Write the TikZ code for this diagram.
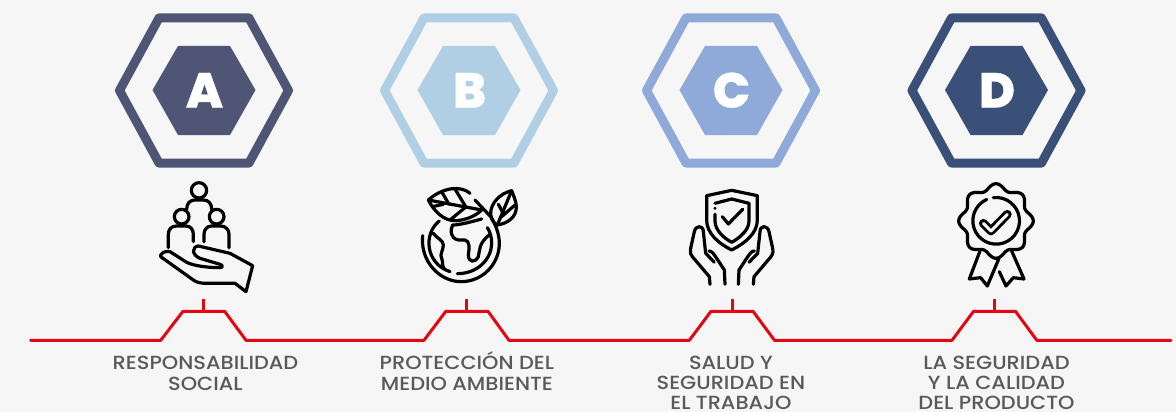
\documentclass[tikz,border=0pt]{standalone}
\usepackage{fontspec}
\setmainfont{Poppins}
\newfontfamily\lblf[FakeStretch=1.1]{Poppins Medium}
\newfontfamily\hexf[FakeBold=0.8]{Poppins ExtraBold}
\definecolor{bgc}{HTML}{F6F6F6}
\definecolor{redl}{HTML}{E30613}
\definecolor{txt}{HTML}{58595B}
\definecolor{ca}{HTML}{4F5675}
\definecolor{cb}{HTML}{B0CFE4}
\definecolor{cc}{HTML}{8FAAD9}
\definecolor{cd}{HTML}{3A5078}
\tikzset{
  x=1pt,y=-1pt,
  redline/.style={draw=redl,line width=3pt,line join=round,line cap=round},
  lbl/.style={text=txt,font=\lblf\fontsize{19}{20.2}\selectfont,align=center,anchor=base,inner sep=0pt},
  letter/.style={text=white,font=\hexf\fontsize{49}{49}\selectfont,inner sep=0pt,anchor=base},
  ico/.style={draw=black,line width=3.2pt,line cap=round,line join=round},
  icozoom/.style={x=0.3333pt,y=-0.3333pt}
}
\newcommand{\hexa}[3]{%
  \draw[#2,line width=9pt,line join=round] (#1-84.5,90.5) -- (#1-45,18) -- (#1+45,18) -- (#1+84.5,90.5) -- (#1+45,163) -- (#1-45,163) -- cycle;
  \fill[#2] (#1-51.5,90) -- (#1-26,46) -- (#1+26,46) -- (#1+51.5,90) -- (#1+26,135) -- (#1-26,135) -- cycle;
  \node[letter] at (#1+0.5,107.5) {#3};
}
\begin{document}
\begin{tikzpicture}
\fill[bgc] (0,0) rectangle (1176,412);
\useasboundingbox (0,0) rectangle (1176,412);
\hexa{204}{ca}{A}
\hexa{469}{cb}{B}
\hexa{731}{cc}{C}
\hexa{996.5}{cd}{D}
% red line
\draw[redline] (30.6,340.3) -- (160.7,340.3) -- (183,311.3) -- (224.6,311.3) -- (246,340.3)
  -- (424,340.3) -- (445.8,311.3) -- (488,311.3) -- (509,340.3)
  -- (689.3,340.3) -- (711,311.3) -- (753,311.3) -- (774.5,340.3)
  -- (952,340.3) -- (973.6,311.3) -- (1015.5,311.3) -- (1036.8,340.3) -- (1171,340.3);
\draw[redline,line cap=butt] (203.2,299) -- (203.2,311.3);
\draw[redline,line cap=butt] (466.5,299) -- (466.5,311.3);
\draw[redline,line cap=butt] (732,299) -- (732,311.3);
\draw[redline,line cap=butt] (994.2,299) -- (994.2,311.3);
% labels
\node[lbl] (la) at (205.5,390) {RESPONSABILIDAD\\SOCIAL};
\node[lbl] (lb) at (466.9,390) {PROTECCIÓN DEL\\MEDIO AMBIENTE};
\node[lbl] (lc) at (730.9,409.6) {SALUD Y\\SEGURIDAD EN\\EL TRABAJO};
\node[lbl] (ld) at (996.5,409.6) {LA SEGURIDAD\\Y LA CALIDAD\\DEL PRODUCTO};
% icon 1: people in a hand
\begin{scope}[shift={(130,175)},icozoom]
\draw[ico] (207,46) circle[radius=23];
\draw[ico] (155,125) circle[radius=22];
\draw[ico] (260,125) circle[radius=22];
\draw[ico] (170,103) .. controls (170,85) and (180,75) .. (195,75) -- (220,75) .. controls (235,75) and (245,85) .. (245,103);
\draw[ico] (115,218) -- (115,178) .. controls (115,162) and (125,153) .. (140,153) -- (168,153) .. controls (183,153) and (190,165) .. (190,178) -- (190,200);
\draw[ico] (222,200) -- (222,178) .. controls (222,165) and (230,153) .. (245,153) -- (272,153) .. controls (288,153) and (297,165) .. (297,178) -- (297,218);
\draw[ico] (205,213) -- (300,235) -- (368,272) -- (348,350) -- (315,325) -- (230,325)
  .. controls (210,325) and (200,322) .. (190,315) -- (92,245) .. controls (88,238) and (105,225) .. (120,230)
  -- (170,262) .. controls (190,272) and (230,278) .. (270,278) .. controls (280,278) and (278,270) .. (270,268)
  -- (210,250) .. controls (185,240) and (185,215) .. (205,213) -- cycle;
\end{scope}
% icon 2: globe with leaves
\begin{scope}[shift={(400,175)},icozoom]
\draw[ico] (68,182) .. controls (60,260) and (120,320) .. (183,320) .. controls (250,320) and (298,265) .. (298,205) .. controls (298,175) and (285,145) .. (272,125) -- (225,75);
\draw[ico] (118,138) .. controls (70,175) and (75,265) .. (150,290);
\draw[ico] (172,296) .. controls (235,296) and (275,250) .. (275,205) .. controls (275,185) and (270,170) .. (262,158);
\draw[ico] (245,132) .. controls (215,140) and (180,150) .. (158,150) .. controls (150,165) and (150,190) .. (175,195) -- (195,195) .. controls (210,198) and (208,220) .. (205,240) .. controls (205,262) and (225,265) .. (235,245) .. controls (240,225) and (235,205) .. (270,178);
\draw[ico] (100,175) .. controls (110,190) and (130,195) .. (130,210) .. controls (130,225) and (118,240) .. (125,250) .. controls (130,262) and (125,270) .. (132,280);
\draw[ico] (210,55) .. controls (185,32) and (130,35) .. (85,75) .. controls (100,105) and (130,140) .. (170,137) .. controls (195,135) and (225,125) .. (245,105) -- (85,75);
\draw[ico] (125,50) -- (147,88);
\draw[ico] (165,42) -- (197,95);
\draw[ico] (97,95) -- (130,88);
\draw[ico] (150,135) -- (195,98);
\draw[ico] (335,47) .. controls (300,55) and (272,85) .. (272,115) .. controls (272,130) and (280,145) .. (292,150) .. controls (325,145) and (350,125) .. (349,95) .. controls (349,80) and (340,60) .. (335,47) -- cycle;
\draw[ico] (335,47) -- (292,150);
\draw[ico] (295,88) -- (310,115);
\draw[ico] (345,90) -- (305,125);
\end{scope}
% icon 3: shield and hands
\begin{scope}[shift={(665,175)},icozoom]
\draw[ico] (200,46) -- (277,62) -- (277,135) .. controls (277,175) and (240,205) .. (200,225) .. controls (160,205) and (125,175) .. (125,135) -- (125,62) -- cycle;
\draw[ico] (150,118) -- (150,138) .. controls (150,165) and (175,188) .. (200,202) .. controls (225,188) and (252,165) .. (252,138) -- (252,85) -- (200,72) -- (150,85);
\fill (150,100) circle[radius=5];
\draw[ico] (172,125) -- (190,147) -- (233,103);
\foreach \s in {1,-1}{
\begin{scope}[xshift=66.67pt,xscale=\s]
\draw[ico] (-65,328) -- (-67,305) -- (-118,245) .. controls (-125,235) and (-125,230) .. (-122,215) -- (-112,170) .. controls (-108,150) and (-85,150) .. (-85,170) -- (-78,235);
\draw[ico] (-78,235) -- (-52,262);
\draw[ico] (-68,228) .. controls (-60,228) and (-55,235) .. (-45,250) -- (-22,285) -- (-20,328);
\end{scope}}
\end{scope}
% icon 4: rosette
\begin{scope}[shift={(930,175)},icozoom]
\draw[ico] (150,228) -- (118,312) -- (152,308) -- (172,333) -- (207,250);
\draw[ico] (245,228) -- (282,312) -- (250,308) -- (228,333) -- (208,290);
\fill[bgc] (198,138) circle[radius=95];
\draw[ico] plot[smooth cycle,samples=96,domain=0:356.25] ({198+(103+9*cos(8*\x))*cos(\x+0)},{138+(103+9*cos(8*\x))*sin(\x+0)});
\draw[ico] (190,68) arc[start angle=-97,end angle=246,radius=70];
\draw[black,line width=8.8pt,line cap=round,line join=round] (160,145) -- (183,168) -- (232,118);
\draw[bgc,line width=3pt,line cap=round,line join=round] (160,145) -- (183,168) -- (232,118);
\end{scope}
\end{tikzpicture}
\end{document}
